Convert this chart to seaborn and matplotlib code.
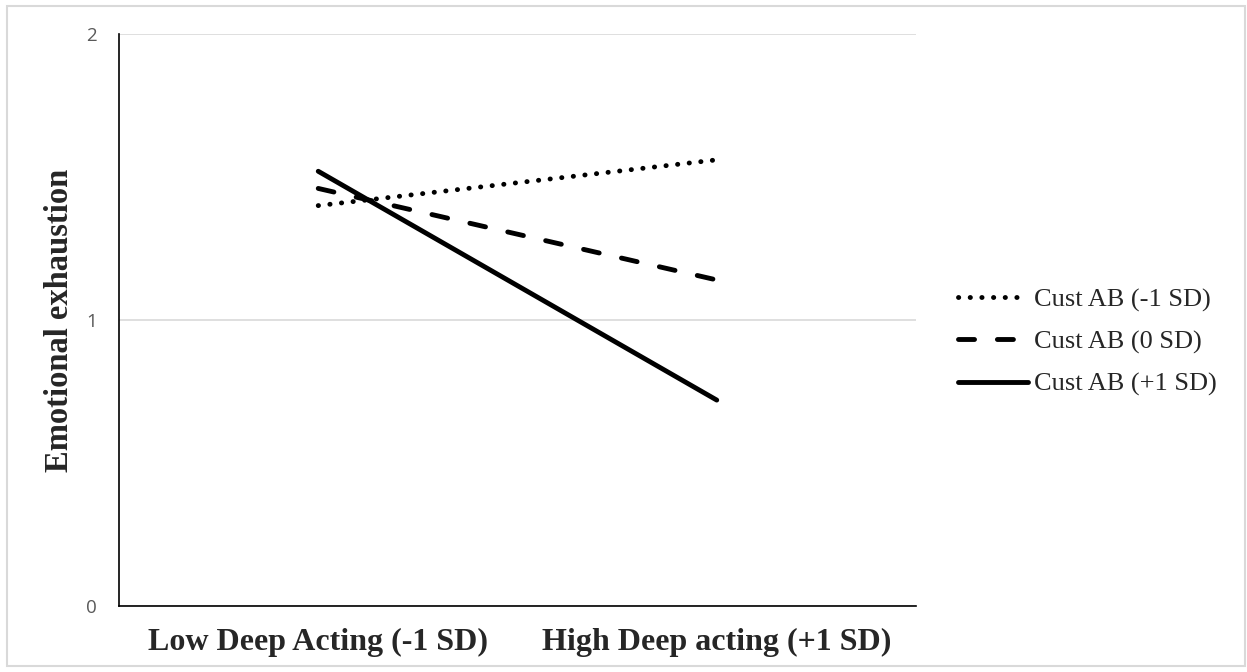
import pandas as pd
import matplotlib.pyplot as plt
import seaborn as sns
from matplotlib.patches import Rectangle

# data
categories = ['Low Deep Acting (-1 SD)', 'High Deep acting (+1 SD)']
series = ['Cust AB (-1 SD)', 'Cust AB (0 SD)', 'Cust AB (+1 SD)']
cust_low = [1.40, 1.56]
cust_mid = [1.46, 1.14]
cust_high = [1.52, 0.72]
y_ticks = [0, 1, 2]

df = pd.DataFrame({
    'x': categories * 3,
    'y': cust_low + cust_mid + cust_high,
    'series': [s for s in series for _ in categories],
})

sns.set_style('white')
plt.rcParams['font.family'] = ['Liberation Serif', 'DejaVu Sans']

fig = plt.figure(figsize=(12.47, 6.72), dpi=100)
ax = fig.add_axes([119 / 1247, 66 / 672, 797 / 1247, 572 / 672])

# dash patterns in units of line width
dash_map = {series[0]: (0.05, 2.35), series[1]: (3.3, 4.7), series[2]: ''}
sns.lineplot(data=df, x='x', y='y', hue='series', style='series',
             palette=['black'] * 3, dashes=dash_map, linewidth=3.5,
             sort=False, ax=ax, legend=False)

for line in ax.lines:
    line.set_dash_capstyle('round')
    line.set_solid_capstyle('round')

ax.set_xlim(-0.5, 1.5)
ax.set_ylim(0, 2)
ax.set_yticks(y_ticks)
ax.set_yticklabels([str(t) for t in y_ticks], family='Open Sans', color='#595959', fontsize=13.5)
ax.tick_params(axis='y', length=0, pad=16)
ax.tick_params(axis='x', length=0, pad=16)
for lab in ax.get_xticklabels():
    lab.set_fontweight('bold')
    lab.set_fontsize(23)
ax.grid(axis='y', color='#d9d9d9', linewidth=1.2)
ax.set_axisbelow(True)
for side in ['top', 'right']:
    ax.spines[side].set_visible(False)
for side in ['left', 'bottom']:
    ax.spines[side].set_color('black')
    ax.spines[side].set_linewidth(1.2)

ax.set_xlabel('')
ax.set_ylabel('Emotional exhaustion', fontsize=23.5, fontweight='bold')
ax.yaxis.set_label_coords(-0.055, 0.5)

handles = ax.lines[:3]
fig.legend(handles, series, loc='center left', bbox_to_anchor=(958 / 1247, 1 - 342 / 672),
           frameon=False, fontsize=19, handlelength=2.65, handletextpad=0.23,
           labelspacing=0.7, borderpad=0, borderaxespad=0)

fig.patches.append(Rectangle((7 / 1247, 6 / 672), 1238 / 1247, 660 / 672,
                             transform=fig.transFigure, fill=False,
                             edgecolor='#d9d9d9', linewidth=1.5))

plt.savefig('out.png', dpi=100)
